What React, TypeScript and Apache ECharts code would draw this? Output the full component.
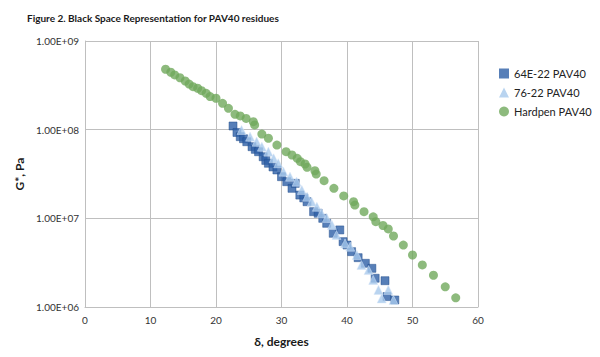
import React, { useEffect, useRef } from "react";
import * as echarts from "echarts";

const title = "Figure 2. Black Space Representation for PAV40 residues";
const seriesNames = ["64E-22 PAV40", "76-22 PAV40", "Hardpen PAV40"];
const xTicks = [0, 10, 20, 30, 40, 50, 60];

// δ (degrees), G* (Pa)
const e64Delta = [22.6, 23.2, 23.7, 24.2, 24.7, 25.5, 26.0, 26.5, 27.2, 27.6, 28.0, 28.7, 29.3, 30.0, 30.8, 31.6, 32.1, 32.8, 33.4, 33.9, 34.9, 35.6, 36.3, 36.9, 37.9, 38.9, 39.4, 40.0, 40.7, 41.7, 42.8, 43.8, 44.3, 45.8, 46.1, 47.3];
const e64G = [1.10e8, 9.30e7, 8.34e7, 7.90e7, 7.31e7, 6.43e7, 6.00e7, 5.64e7, 4.95e7, 4.50e7, 4.18e7, 3.80e7, 3.51e7, 2.95e7, 2.59e7, 2.18e7, 2.48e7, 1.83e7, 1.70e7, 1.54e7, 1.19e7, 1.14e7, 1.00e7, 8.79e6, 6.78e6, 7.40e6, 5.46e6, 5.00e6, 4.21e6, 3.60e6, 3.11e6, 2.73e6, 2.11e6, 1.98e6, 1.31e6, 1.20e6];

const s76Delta = [23.9, 25.2, 26.2, 27.0, 28.0, 28.8, 29.5, 30.3, 31.3, 32.3, 33.1, 33.9, 34.6, 35.4, 36.1, 36.9, 37.7, 38.4, 39.7, 40.5, 41.5, 42.2, 43.3, 44.0, 44.8, 45.3, 46.3, 47.1];
const s76G = [9.91e7, 8.34e7, 7.31e7, 6.43e7, 5.65e7, 4.75e7, 4.18e7, 3.36e7, 2.95e7, 2.59e7, 2.09e7, 1.75e7, 1.54e7, 1.35e7, 1.14e7, 1.01e7, 8.41e6, 6.49e6, 5.22e6, 4.79e6, 3.86e6, 2.98e6, 2.61e6, 2.02e6, 1.56e6, 1.25e6, 1.56e6, 1.20e6];

const hpDelta = [12.3, 13.1, 13.7, 14.5, 15.3, 15.9, 16.5, 17.2, 17.8, 18.5, 19.1, 20.0, 21.0, 21.9, 22.9, 23.7, 24.6, 25.7, 25.9, 27.0, 28.0, 29.3, 30.7, 31.6, 32.4, 32.9, 33.6, 33.9, 35.1, 35.3, 36.5, 38.0, 39.5, 41.0, 41.2, 42.6, 44.0, 44.4, 45.5, 46.3, 47.1, 48.6, 50.0, 51.5, 53.2, 55.0, 56.6];
const hpG = [4.80e8, 4.44e8, 4.14e8, 3.85e8, 3.54e8, 3.27e8, 3.05e8, 2.93e8, 2.75e8, 2.57e8, 2.36e8, 2.26e8, 1.98e8, 1.74e8, 1.49e8, 1.43e8, 1.34e8, 1.23e8, 1.13e8, 8.93e7, 8.00e7, 6.71e7, 5.65e7, 5.18e7, 4.75e7, 4.36e7, 4.10e7, 3.77e7, 3.44e7, 3.16e7, 2.66e7, 2.18e7, 1.79e7, 1.54e7, 1.41e7, 1.19e7, 1.04e7, 9.16e6, 8.30e6, 7.59e6, 6.32e6, 5.00e6, 3.86e6, 2.98e6, 2.28e6, 1.69e6, 1.27e6];

const zip = (a: number[], b: number[]) => a.map((v, i) => [v, b[i]]);

function fmtExp(v: number) {
  const s = v.toExponential(2).toUpperCase();
  const [m, e] = s.split("E");
  const sign = e[0] === "-" ? "-" : "+";
  const digits = e.replace(/[+-]/, "").padStart(2, "0");
  return `${m}E${sign}${digits}`;
}

const FONT = "Lato, 'Open Sans', sans-serif";
const COLORS = ["#2d5fa6", "#a7c9ec", "#70a95c"];

export default function App() {
  const ref = useRef<HTMLDivElement>(null);
  useEffect(() => {
    if (!ref.current) return;
    const chart = echarts.init(ref.current, undefined, { renderer: "svg" });
    chart.setOption({
      animation: false,
      backgroundColor: "#ffffff",
      title: {
        text: title,
        left: 22,
        top: 8,
        textStyle: { fontSize: 10, fontWeight: "bold", color: "#1a1a1a", fontFamily: FONT },
      },
      legend: {
        orient: "vertical",
        left: 494,
        top: 63,
        itemWidth: 10,
        itemHeight: 10,
        itemGap: 8,
        textStyle: { fontSize: 11, color: "#222", fontFamily: FONT },
        data: [
          { name: seriesNames[0], icon: "rect", itemStyle: { color: COLORS[0], borderWidth: 0 } },
          { name: seriesNames[1], icon: "triangle", itemStyle: { color: COLORS[1], borderWidth: 0 } },
          { name: seriesNames[2], icon: "circle", itemStyle: { color: COLORS[2], borderWidth: 0 } },
        ],
      },
      grid: { left: 85, top: 41, right: 122, bottom: 50 },
      xAxis: {
        type: "value",
        min: xTicks[0],
        max: xTicks[xTicks.length - 1],
        interval: 10,
        name: "δ, degrees",
        nameLocation: "middle",
        nameGap: 28,
        nameTextStyle: { fontSize: 12, fontWeight: "bold", color: "#1a1a1a", fontFamily: FONT },
        axisLine: { show: true, lineStyle: { color: "#bfbfbf", width: 1 } },
        axisTick: { show: false },
        axisLabel: { fontSize: 10, color: "#333", margin: 8, fontFamily: FONT },
        splitLine: { show: true, lineStyle: { color: "#bfbfbf", width: 1 } },
      },
      yAxis: {
        type: "log",
        logBase: 10,
        min: 1e6,
        max: 1e9,
        name: "G*, Pa",
        nameLocation: "middle",
        nameGap: 50,
        nameTextStyle: { fontSize: 12, fontWeight: "bold", color: "#1a1a1a", fontFamily: FONT },
        axisLine: { show: true, lineStyle: { color: "#bfbfbf", width: 1 } },
        axisTick: { show: false },
        axisLabel: { fontSize: 10, color: "#333", margin: 6, fontFamily: FONT, formatter: (v: number) => fmtExp(v) },
        splitLine: { show: true, lineStyle: { color: "#bfbfbf", width: 1 } },
        minorSplitLine: { show: false },
      },
      series: [
        {
          name: seriesNames[0],
          type: "scatter",
          symbol: "rect",
          symbolSize: 8,
          data: zip(e64Delta, e64G),
          itemStyle: { color: COLORS[0], borderColor: "#1f4c8c", borderWidth: 0.6 },
          z: 2,
        },
        {
          name: seriesNames[1],
          type: "scatter",
          symbol: "triangle",
          symbolSize: 9,
          data: zip(s76Delta, s76G),
          itemStyle: { color: COLORS[1], borderColor: "#d4e4f6", borderWidth: 0.6 },
          z: 3,
        },
        {
          name: seriesNames[2],
          type: "scatter",
          symbol: "circle",
          symbolSize: 9,
          data: zip(hpDelta, hpG),
          itemStyle: { color: COLORS[2] },
          z: 4,
        },
      ],
    });
    return () => chart.dispose();
  }, []);
  return <div ref={ref} style={{ position: "absolute", left: 0, top: 0, width: 600, height: 357 }} />;
}
